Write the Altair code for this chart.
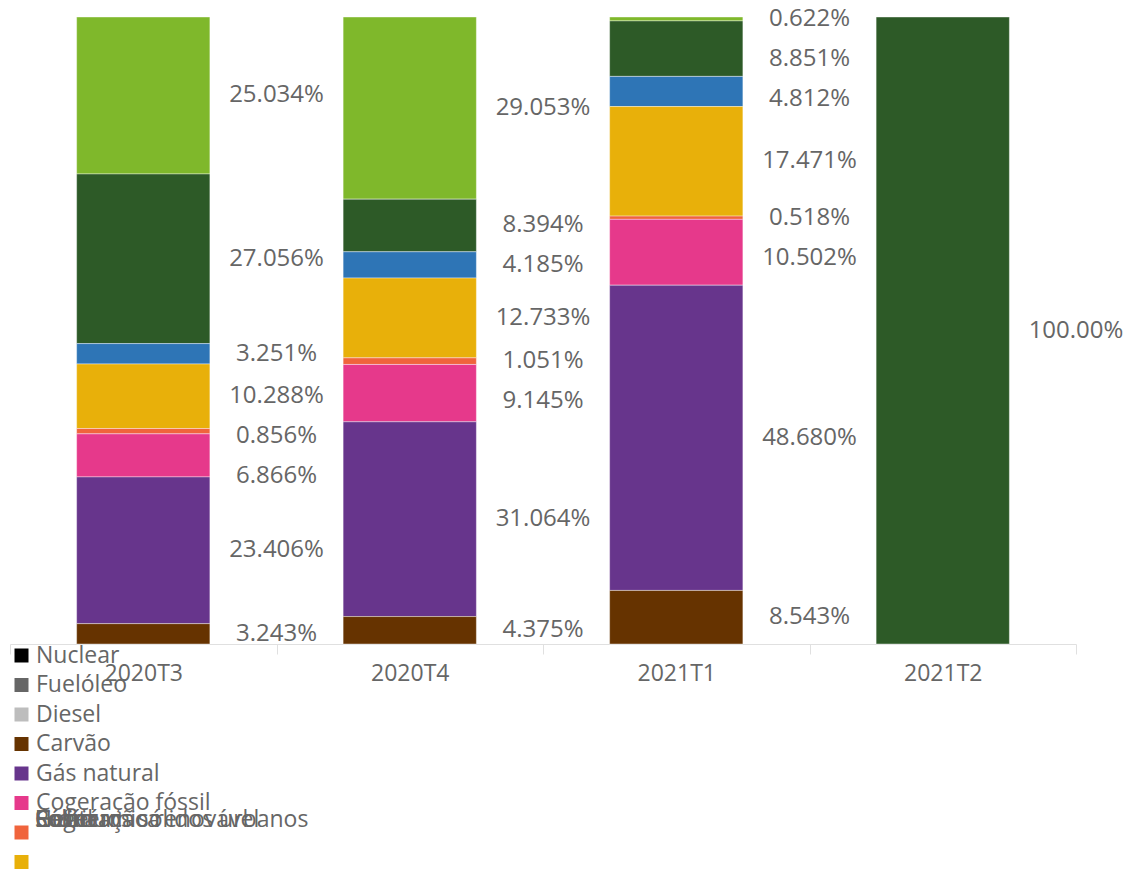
import altair as alt
import pandas as pd

quarters = ["2020T3", "2020T4", "2021T1", "2021T2"]

series = ["Nuclear", "Fuelóleo", "Diesel", "Carvão", "Gás natural", "Cogeração fóssil",
          "Resíduos sólidos urbanos", "Cogeração renovável", "Geotérmica", "Solar",
          "Eólica", "Hídrica"]
colors = ["#000000", "#666666", "#bdbdbd", "#663300", "#67358c", "#e6398b",
          "#f0643c", "#e8b00a", "#20d3c8", "#2e75b6", "#2d5a27", "#7fb82b"]

nuclear = [0, 0, 0, 0]
fueloleo = [0, 0, 0, 0]
diesel = [0, 0, 0, 0]
carvao = [3.243, 4.375, 8.543, 0]
gas_natural = [23.406, 31.064, 48.680, 0]
cogeracao_fossil = [6.866, 9.145, 10.502, 0]
residuos = [0.856, 1.051, 0.518, 0]
cogeracao_renovavel = [10.288, 12.733, 17.471, 0]
geotermica = [0, 0, 0, 0]
solar = [3.251, 4.185, 4.812, 0]
eolica = [27.056, 8.394, 8.851, 100.0]
hidrica = [25.034, 29.053, 0.622, 0]

values = [nuclear, fueloleo, diesel, carvao, gas_natural, cogeracao_fossil,
          residuos, cogeracao_renovavel, geotermica, solar, eolica, hidrica]

PLOT_W, PLOT_H = 1066, 627
GAP = 40 / PLOT_H * 100  # minimum label spacing in percent units

rows = []
for qi, q in enumerate(quarters):
    items = []
    bottom = 0.0
    for si, s in enumerate(series):
        v = values[si][qi]
        if v > 0:
            items.append({"quarter": q, "series": s, "idx": si, "value": v,
                          "mid": bottom + v / 2,
                          "label": (f"{v:.3f}%" if v < 100 else f"{v:.2f}%")})
            bottom += v
    # spread labels to avoid overlaps (top -> bottom)
    items.sort(key=lambda d: -d["mid"])
    t = [100 - d["mid"] for d in items]
    for i in range(1, len(t)):
        t[i] = max(t[i], t[i - 1] + GAP)
    if t and t[-1] > 98.5:
        t[-1] = 98.5
        for i in range(len(t) - 2, -1, -1):
            t[i] = min(t[i], t[i + 1] - GAP)
    for d, tt in zip(items, t):
        d["label_pos"] = 100 - max(tt, 0)
        rows.append(d)

df = pd.DataFrame(rows)

shown = series[:6]
label_expr = ("indexof([" + ",".join(f"'{s}'" for s in shown) +
              "], datum.label) >= 0 ? datum.label : ' '")

FONT = "Open Sans"
GRAY = "#666666"

x_enc = alt.X("quarter:N", sort=quarters,
              scale=alt.Scale(domain=quarters, paddingInner=0, paddingOuter=0),
              axis=alt.Axis(title=None, labelAngle=0, labelFontSize=23, labelFont=FONT,
                            labelColor=GRAY, domainColor="#e0e0e0", tickColor="#e0e0e0",
                            tickSize=10, tickBand="extent", labelPadding=8, grid=False))

bars = alt.Chart(df).mark_bar(width=alt.RelativeBandSize(0.5), stroke="#ffffff",
                              strokeWidth=0.8, strokeOpacity=0.5).encode(
    x=x_enc,
    y=alt.Y("value:Q", stack="zero", scale=alt.Scale(domain=[0, 100], nice=False), axis=None),
    color=alt.Color("series:N", sort=series,
                    scale=alt.Scale(domain=series, range=colors),
                    legend=alt.Legend(orient="none", legendX=0, legendY=627, title=None,
                                      symbolType="square", symbolSize=196,
                                      symbolStrokeWidth=0, labelFontSize=23,
                                      labelFont=FONT, labelColor=GRAY, labelOffset=3,
                                      labelLimit=400, rowPadding=5.5,
                                      labelExpr=label_expr)),
    order=alt.Order("idx:Q", sort="ascending"),
)

labels = alt.Chart(df).mark_text(align="center", baseline="middle", dx=0,
                                 fontSize=24, font=FONT, color=GRAY).encode(
    x=alt.X("quarter:N", sort=quarters, bandPosition=1),
    y=alt.Y("label_pos:Q"),
    text="label:N",
)

legend_rest = pd.DataFrame({"name": series[6:]})
overlap = alt.Chart(legend_rest).mark_text(align="left", baseline="middle", fontSize=23,
                                            font=FONT, color=GRAY).encode(
    x=alt.value(25), y=alt.value(803), text="name:N")

chart = alt.layer(bars, labels, overlap).properties(
    width=PLOT_W, height=PLOT_H,
    padding={"left": 2, "top": 9, "right": 58, "bottom": 230},
    autosize=alt.AutoSizeParams(type="none"),
).configure_view(stroke=None)

chart.save("out.html", embed_options={"renderer": "svg", "actions": False})
